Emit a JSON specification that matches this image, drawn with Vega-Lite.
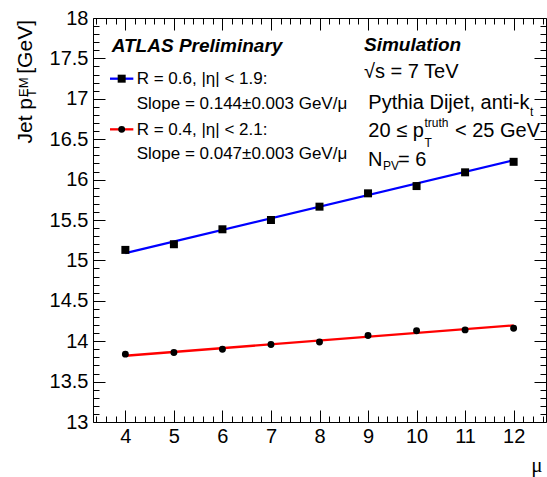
{
  "$schema": "https://vega.github.io/schema/vega-lite/v6.json",
  "width": 453,
  "height": 404,
  "autosize": {"type": "none"},
  "padding": {"left": 93, "top": 18, "right": 1, "bottom": 55},
  "background": "white",
  "config": {
    "view": {"stroke": "black", "strokeWidth": 1},
    "axis": {"grid": false, "domain": false, "tickColor": "black", "tickWidth": 1, "labelColor": "black", "labelFont": "Liberation Sans"},
    "font": "Liberation Sans"
  },
  "datasets": {
    "points": [
      {"s": "R06", "mu": 4, "pt": 15.13},
      {"s": "R06", "mu": 5, "pt": 15.20},
      {"s": "R06", "mu": 6, "pt": 15.385},
      {"s": "R06", "mu": 7, "pt": 15.50},
      {"s": "R06", "mu": 8, "pt": 15.665},
      {"s": "R06", "mu": 9, "pt": 15.83},
      {"s": "R06", "mu": 10, "pt": 15.92},
      {"s": "R06", "mu": 11, "pt": 16.09},
      {"s": "R06", "mu": 12, "pt": 16.22},
      {"s": "R04", "mu": 4, "pt": 13.84},
      {"s": "R04", "mu": 5, "pt": 13.86},
      {"s": "R04", "mu": 6, "pt": 13.90},
      {"s": "R04", "mu": 7, "pt": 13.96},
      {"s": "R04", "mu": 8, "pt": 13.99},
      {"s": "R04", "mu": 9, "pt": 14.07},
      {"s": "R04", "mu": 10, "pt": 14.13},
      {"s": "R04", "mu": 11, "pt": 14.14},
      {"s": "R04", "mu": 12, "pt": 14.16}
    ],
    "fits": [
      {"s": "R06", "mu": 4, "pt": 15.09},
      {"s": "R06", "mu": 12, "pt": 16.24},
      {"s": "R04", "mu": 4, "pt": 13.82},
      {"s": "R04", "mu": 12, "pt": 14.196}
    ],
    "legendLines": [
      {"s": "R06", "x": 3.683, "y": 17.249},
      {"s": "R06", "x": 4.164, "y": 17.249},
      {"s": "R04", "x": 3.683, "y": 16.622},
      {"s": "R04", "x": 4.164, "y": 16.622}
    ],
    "legendMarks": [
      {"s": "R06", "x": 3.924, "y": 17.249},
      {"s": "R04", "x": 3.924, "y": 16.622}
    ],
    "texts": [
      {"k": "head", "t": "ATLAS Preliminary", "x": 3.718, "y": 17.583},
      {"k": "head", "t": "Simulation", "x": 8.917, "y": 17.595},
      {"k": "leg", "t": "R = 0.6, |η| < 1.9:", "x": 4.233, "y": 17.183},
      {"k": "leg", "t": "Slope = 0.144±0.003 GeV/μ", "x": 4.233, "y": 16.874},
      {"k": "leg", "t": "R = 0.4, |η| < 2.1:", "x": 4.233, "y": 16.558},
      {"k": "leg", "t": "Slope = 0.047±0.003 GeV/μ", "x": 4.233, "y": 16.249},
      {"k": "info", "t": "√s = 7 TeV", "x": 8.917, "y": 17.254},
      {"k": "info", "t": "Pythia Dijet, anti-k", "x": 9.006, "y": 16.874},
      {"k": "info", "t": "20 ≤ p", "x": 9.006, "y": 16.531},
      {"k": "info", "t": "< 25 GeV", "x": 10.792, "y": 16.531},
      {"k": "info", "t": "N", "x": 9.0, "y": 16.168},
      {"k": "info", "t": "= 6", "x": 9.618, "y": 16.168},
      {"k": "small", "t": "t", "x": 12.338, "y": 16.793},
      {"k": "small", "t": "truth", "x": 10.164, "y": 16.647},
      {"k": "small", "t": "T", "x": 10.164, "y": 16.407},
      {"k": "small", "t": "PV", "x": 9.309, "y": 16.119},
      {"k": "ytitle", "t": "Jet p", "x": 2.076, "y": 17.010},
      {"k": "ytitle", "t": "[GeV]", "x": 2.076, "y": 17.975},
      {"k": "ytsmall", "t": "T", "x": 2.159, "y": 17.022},
      {"k": "ytsmall", "t": "EM", "x": 1.994, "y": 17.022}
    ]
  },
  "resolve": {"axis": {"x": "independent", "y": "independent"}},
  "layer": [
    {
      "data": {"name": "fits"},
      "transform": [{"filter": "datum.s === 'R06'"}],
      "mark": {"type": "line", "color": "#0000ff", "strokeWidth": 2.3},
      "encoding": {
        "x": {"field": "mu", "type": "quantitative", "scale": {"domain": [3.333, 12.667], "nice": false, "zero": false},
              "axis": {"orient": "top", "values": [4,5,6,7,8,9,10,11,12], "tickSize": -12, "labels": false, "title": null}},
        "y": {"field": "pt", "type": "quantitative", "scale": {"domain": [13, 18], "nice": false, "zero": false},
              "axis": {"orient": "right", "values": [13,13.5,14,14.5,15,15.5,16,16.5,17,17.5,18], "tickSize": -12, "labels": false, "title": null}}
      }
    },
    {
      "data": {"name": "fits"},
      "transform": [{"filter": "datum.s === 'R04'"}],
      "mark": {"type": "line", "color": "#ff0000", "strokeWidth": 2.3},
      "encoding": {
        "x": {"field": "mu", "type": "quantitative", "scale": {"domain": [3.333, 12.667], "nice": false, "zero": false},
              "axis": {"orient": "top", "values": [3.4,3.6,3.8,4.2,4.4,4.6,4.8,5.2,5.4,5.6,5.8,6.2,6.4,6.6,6.8,7.2,7.4,7.6,7.8,8.2,8.4,8.6,8.8,9.2,9.4,9.6,9.8,10.2,10.4,10.6,10.8,11.2,11.4,11.6,11.8,12.2,12.4,12.6], "tickSize": -6, "labels": false, "title": null}},
        "y": {"field": "pt", "type": "quantitative", "scale": {"domain": [13, 18], "nice": false, "zero": false},
              "axis": {"orient": "right", "values": [13.1,13.2,13.3,13.4,13.6,13.7,13.8,13.9,14.1,14.2,14.3,14.4,14.6,14.7,14.8,14.9,15.1,15.2,15.3,15.4,15.6,15.7,15.8,15.9,16.1,16.2,16.3,16.4,16.6,16.7,16.8,16.9,17.1,17.2,17.3,17.4,17.6,17.7,17.8,17.9], "tickSize": -6, "labels": false, "title": null}}
      }
    },
    {
      "data": {"name": "points"},
      "transform": [{"filter": "datum.s === 'R06'"}],
      "mark": {"type": "point", "shape": "square", "filled": true, "color": "black", "size": 64, "opacity": 1},
      "encoding": {
        "x": {"field": "mu", "type": "quantitative", "scale": {"domain": [3.333, 12.667], "nice": false, "zero": false},
              "axis": {"orient": "bottom", "values": [4,5,6,7,8,9,10,11,12], "tickSize": -12, "format": "~g",
                       "labelFontSize": 20, "labelPadding": 16, "labelBaseline": "top", "labelFlush": false, "labelOverlap": false,
                       "title": "μ", "titleFont": "Liberation Serif", "titleFontSize": 21, "titleFontWeight": "normal", "titleColor": "black",
                       "titleX": 449, "titleY": 49, "titleAlign": "right", "titleBaseline": "alphabetic"}},
        "y": {"field": "pt", "type": "quantitative", "scale": {"domain": [13, 18], "nice": false, "zero": false},
              "axis": {"orient": "left", "values": [13,13.5,14,14.5,15,15.5,16,16.5,17,17.5,18], "tickSize": -12, "format": "~g",
                       "labelFontSize": 20, "labelPadding": 17, "labelFlush": false, "labelOverlap": false, "title": null}}
      }
    },
    {
      "data": {"name": "points"},
      "transform": [{"filter": "datum.s === 'R04'"}],
      "mark": {"type": "point", "shape": "circle", "filled": true, "color": "black", "size": 48, "opacity": 1},
      "encoding": {
        "x": {"field": "mu", "type": "quantitative", "scale": {"domain": [3.333, 12.667], "nice": false, "zero": false},
              "axis": {"orient": "bottom", "values": [3.4,3.6,3.8,4.2,4.4,4.6,4.8,5.2,5.4,5.6,5.8,6.2,6.4,6.6,6.8,7.2,7.4,7.6,7.8,8.2,8.4,8.6,8.8,9.2,9.4,9.6,9.8,10.2,10.4,10.6,10.8,11.2,11.4,11.6,11.8,12.2,12.4,12.6], "tickSize": -6, "labels": false, "title": null}},
        "y": {"field": "pt", "type": "quantitative", "scale": {"domain": [13, 18], "nice": false, "zero": false},
              "axis": {"orient": "left", "values": [13.1,13.2,13.3,13.4,13.6,13.7,13.8,13.9,14.1,14.2,14.3,14.4,14.6,14.7,14.8,14.9,15.1,15.2,15.3,15.4,15.6,15.7,15.8,15.9,16.1,16.2,16.3,16.4,16.6,16.7,16.8,16.9,17.1,17.2,17.3,17.4,17.6,17.7,17.8,17.9], "tickSize": -6, "labels": false, "title": null}}
      }
    },
    {
      "data": {"name": "legendLines"},
      "transform": [{"filter": "datum.s === 'R06'"}],
      "mark": {"type": "line", "color": "#0000ff", "strokeWidth": 2.3},
      "encoding": {
        "x": {"field": "x", "type": "quantitative", "scale": {"domain": [3.333, 12.667], "nice": false, "zero": false}, "axis": null},
        "y": {"field": "y", "type": "quantitative", "scale": {"domain": [13, 18], "nice": false, "zero": false}, "axis": null}
      }
    },
    {
      "data": {"name": "legendLines"},
      "transform": [{"filter": "datum.s === 'R04'"}],
      "mark": {"type": "line", "color": "#ff0000", "strokeWidth": 2.3},
      "encoding": {
        "x": {"field": "x", "type": "quantitative", "scale": {"domain": [3.333, 12.667], "nice": false, "zero": false}, "axis": null},
        "y": {"field": "y", "type": "quantitative", "scale": {"domain": [13, 18], "nice": false, "zero": false}, "axis": null}
      }
    },
    {
      "data": {"name": "legendMarks"},
      "transform": [{"filter": "datum.s === 'R06'"}],
      "mark": {"type": "point", "shape": "square", "filled": true, "color": "black", "size": 64, "opacity": 1},
      "encoding": {
        "x": {"field": "x", "type": "quantitative", "scale": {"domain": [3.333, 12.667], "nice": false, "zero": false}, "axis": null},
        "y": {"field": "y", "type": "quantitative", "scale": {"domain": [13, 18], "nice": false, "zero": false}, "axis": null}
      }
    },
    {
      "data": {"name": "legendMarks"},
      "transform": [{"filter": "datum.s === 'R04'"}],
      "mark": {"type": "point", "shape": "circle", "filled": true, "color": "black", "size": 48, "opacity": 1},
      "encoding": {
        "x": {"field": "x", "type": "quantitative", "scale": {"domain": [3.333, 12.667], "nice": false, "zero": false}, "axis": null},
        "y": {"field": "y", "type": "quantitative", "scale": {"domain": [13, 18], "nice": false, "zero": false}, "axis": null}
      }
    },
    {
      "data": {"name": "texts"},
      "transform": [{"filter": "datum.k === 'head'"}],
      "mark": {"type": "text", "font": "Liberation Sans", "fontSize": 19, "fontStyle": "italic", "fontWeight": "bold", "align": "left", "baseline": "alphabetic", "color": "black"},
      "encoding": {
        "x": {"field": "x", "type": "quantitative", "scale": {"domain": [3.333, 12.667], "nice": false, "zero": false}, "axis": null},
        "y": {"field": "y", "type": "quantitative", "scale": {"domain": [13, 18], "nice": false, "zero": false}, "axis": null},
        "text": {"field": "t"}
      }
    },
    {
      "data": {"name": "texts"},
      "transform": [{"filter": "datum.k === 'leg'"}],
      "mark": {"type": "text", "font": "Liberation Sans", "fontSize": 17, "align": "left", "baseline": "alphabetic", "color": "black"},
      "encoding": {
        "x": {"field": "x", "type": "quantitative", "scale": {"domain": [3.333, 12.667], "nice": false, "zero": false}, "axis": null},
        "y": {"field": "y", "type": "quantitative", "scale": {"domain": [13, 18], "nice": false, "zero": false}, "axis": null},
        "text": {"field": "t"}
      }
    },
    {
      "data": {"name": "texts"},
      "transform": [{"filter": "datum.k === 'info'"}],
      "mark": {"type": "text", "font": "Liberation Sans", "fontSize": 20, "align": "left", "baseline": "alphabetic", "color": "black"},
      "encoding": {
        "x": {"field": "x", "type": "quantitative", "scale": {"domain": [3.333, 12.667], "nice": false, "zero": false}, "axis": null},
        "y": {"field": "y", "type": "quantitative", "scale": {"domain": [13, 18], "nice": false, "zero": false}, "axis": null},
        "text": {"field": "t"}
      }
    },
    {
      "data": {"name": "texts"},
      "transform": [{"filter": "datum.k === 'small'"}],
      "mark": {"type": "text", "font": "Liberation Sans", "fontSize": 12, "align": "left", "baseline": "alphabetic", "color": "black"},
      "encoding": {
        "x": {"field": "x", "type": "quantitative", "scale": {"domain": [3.333, 12.667], "nice": false, "zero": false}, "axis": null},
        "y": {"field": "y", "type": "quantitative", "scale": {"domain": [13, 18], "nice": false, "zero": false}, "axis": null},
        "text": {"field": "t"}
      }
    },
    {
      "data": {"name": "texts"},
      "transform": [{"filter": "datum.k === 'ytitle'"}],
      "mark": {"type": "text", "font": "Liberation Sans", "fontSize": 21, "angle": 270, "align": "right", "baseline": "alphabetic", "color": "black"},
      "encoding": {
        "x": {"field": "x", "type": "quantitative", "scale": {"domain": [3.333, 12.667], "nice": false, "zero": false}, "axis": null},
        "y": {"field": "y", "type": "quantitative", "scale": {"domain": [13, 18], "nice": false, "zero": false}, "axis": null},
        "text": {"field": "t"}
      }
    },
    {
      "data": {"name": "texts"},
      "transform": [{"filter": "datum.k === 'ytsmall'"}],
      "mark": {"type": "text", "font": "Liberation Sans", "fontSize": 13, "angle": 270, "align": "left", "baseline": "alphabetic", "color": "black"},
      "encoding": {
        "x": {"field": "x", "type": "quantitative", "scale": {"domain": [3.333, 12.667], "nice": false, "zero": false}, "axis": null},
        "y": {"field": "y", "type": "quantitative", "scale": {"domain": [13, 18], "nice": false, "zero": false}, "axis": null},
        "text": {"field": "t"}
      }
    }
  ]
}
